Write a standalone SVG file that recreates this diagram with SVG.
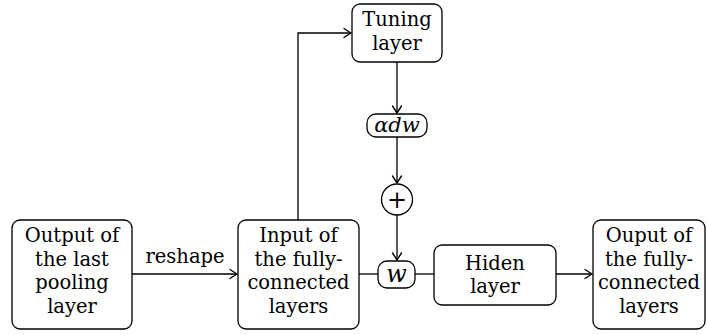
<svg xmlns="http://www.w3.org/2000/svg" width="707" height="335" viewBox="0 0 707 335">
<defs>
<marker id="arr" viewBox="-9 -6 11 12" refX="0" refY="0" markerWidth="11" markerHeight="12" markerUnits="userSpaceOnUse" orient="auto">
<path d="M -7 -4.5 Q -2 -1.2 0 0 Q -2 1.2 -7 4.5" fill="none" stroke="#000" stroke-width="1.4" stroke-linecap="round"/>
</marker>
</defs>
<style>
.box{fill:#fff;stroke:#000;stroke-width:1.3}
.t{font-family:"DejaVu Serif","Liberation Serif",serif;font-size:19.5px;text-anchor:middle;fill:#000}
.m{font-style:italic}
.c{fill:none;stroke:#000;stroke-width:1.3}
</style>
<g id="connectors">
<line class="c" x1="132" y1="274" x2="237" y2="274" marker-end="url(#arr)"/>
<polyline class="c" points="298,220 298,33 351,33" marker-end="url(#arr)"/>
<line class="c" x1="397" y1="62" x2="397" y2="113" marker-end="url(#arr)"/>
<line class="c" x1="397" y1="137" x2="397" y2="183" marker-end="url(#arr)"/>
<line class="c" x1="397" y1="215" x2="397" y2="260" marker-end="url(#arr)"/>
<line class="c" x1="359" y1="274" x2="378" y2="274"/>
<line class="c" x1="415" y1="274" x2="434" y2="274"/>
<line class="c" x1="556" y1="274" x2="592" y2="274" marker-end="url(#arr)"/>
<text class="t" x="185" y="263">reshape</text>
</g>
<g id="pool">
<rect class="box" x="12" y="220" width="120" height="109" rx="8"/>
<text class="t" x="72" y="242">Output of</text>
<text class="t" x="72" y="265.5">the last</text>
<text class="t" x="72" y="289">pooling</text>
<text class="t" x="72" y="312.5">layer</text>
</g>
<g id="input">
<rect class="box" x="238" y="220" width="121" height="109" rx="8"/>
<text class="t" x="298.5" y="242">Input of</text>
<text class="t" x="298.5" y="265.5">the fully-</text>
<text class="t" x="298.5" y="289">connected</text>
<text class="t" x="298.5" y="312.5">layers</text>
</g>
<g id="tuning">
<rect class="box" x="352" y="4" width="90" height="58" rx="8"/>
<text class="t" x="397" y="26">Tuning</text>
<text class="t" x="397" y="49.5">layer</text>
</g>
<g id="adw">
<rect class="box" x="367" y="114" width="60" height="23" rx="9"/>
<text class="t m" x="397" y="132" style="font-size:21px">αdw</text>
</g>
<g id="plus">
<circle class="box" cx="397" cy="199.5" r="15.5"/>
<text class="t" x="397" y="207.5" style="font-size:24px">+</text>
</g>
<g id="w">
<rect class="box" x="378" y="261" width="37" height="27" rx="9"/>
<text class="t m" x="396.5" y="281.5" style="font-size:24px">w</text>
</g>
<g id="hiden">
<rect class="box" x="434" y="245" width="122" height="60" rx="8"/>
<text class="t" x="495" y="270">Hiden</text>
<text class="t" x="495" y="293">layer</text>
</g>
<g id="output">
<rect class="box" x="593" y="220" width="112" height="109" rx="8"/>
<text class="t" x="649" y="242">Ouput of</text>
<text class="t" x="649" y="265.5">the fully-</text>
<text class="t" x="649" y="289">connected</text>
<text class="t" x="649" y="312.5">layers</text>
</g>
</svg>
